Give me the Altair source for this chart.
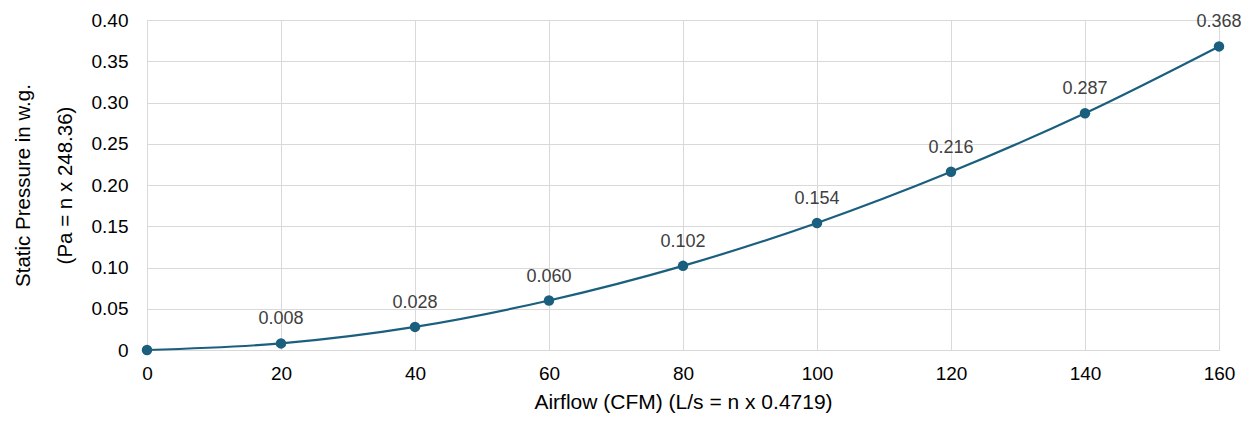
import altair as alt
import pandas as pd

airflow = [0, 20, 40, 60, 80, 100, 120, 140, 160]
pressure = [0.0, 0.008, 0.028, 0.060, 0.102, 0.154, 0.216, 0.287, 0.368]
labels = ["", "0.008", "0.028", "0.060", "0.102", "0.154", "0.216", "0.287", "0.368"]

df = pd.DataFrame({"x": airflow, "y": pressure, "lab": labels})

color = "#1b5f7e"
font = "Liberation Sans"

x = alt.X("x:Q", scale=alt.Scale(domain=[0, 160], nice=False),
          axis=alt.Axis(values=airflow, title="Airflow (CFM) (L/s = n x 0.4719)",
                        titleFontSize=21, titleFont=font, titleColor="#000000",
                        titleFontWeight="normal", titlePadding=8,
                        labelFontSize=19, labelFont=font, labelColor="#000000",
                        labelPadding=14, labelFlush=False, ticks=False, domain=False,
                        gridColor="#d9d9d9", gridWidth=1))
y = alt.Y("y:Q", scale=alt.Scale(domain=[0, 0.40], nice=False),
          axis=alt.Axis(values=[0, 0.05, 0.10, 0.15, 0.20, 0.25, 0.30, 0.35, 0.40],
                        labelExpr="datum.value == 0 ? '0' : format(datum.value, '.2f')",
                        title=["Static Pressure in w.g.", "(Pa = n x 248.36)"],
                        titleFontSize=20.5, titleFont=font, titleColor="#000000",
                        titleFontWeight="normal", titleLineHeight=42, titlePadding=16,
                        labelFontSize=19, labelFont=font, labelColor="#000000",
                        labelPadding=19, labelFlush=False, ticks=False, domain=False,
                        gridColor="#d9d9d9", gridWidth=1))

base = alt.Chart(df)
line = base.mark_line(color=color, strokeWidth=2.2, interpolate="monotone").encode(x=x, y=y)
pts = base.mark_circle(color=color, size=110, opacity=1).encode(x=x, y=y)
txt = base.mark_text(dy=-24, fontSize=18, font=font, color="#404040").encode(x=x, y=y, text="lab:N")

chart = (line + pts + txt).properties(
    width=1072, height=330,
    autosize=alt.AutoSizeParams(type="none"),
    padding={"left": 139, "top": 12, "right": 22, "bottom": 64},
).configure_view(stroke=None).configure(background="#ffffff")

chart.save("out.html", embed_options={"renderer": "svg", "actions": False})
